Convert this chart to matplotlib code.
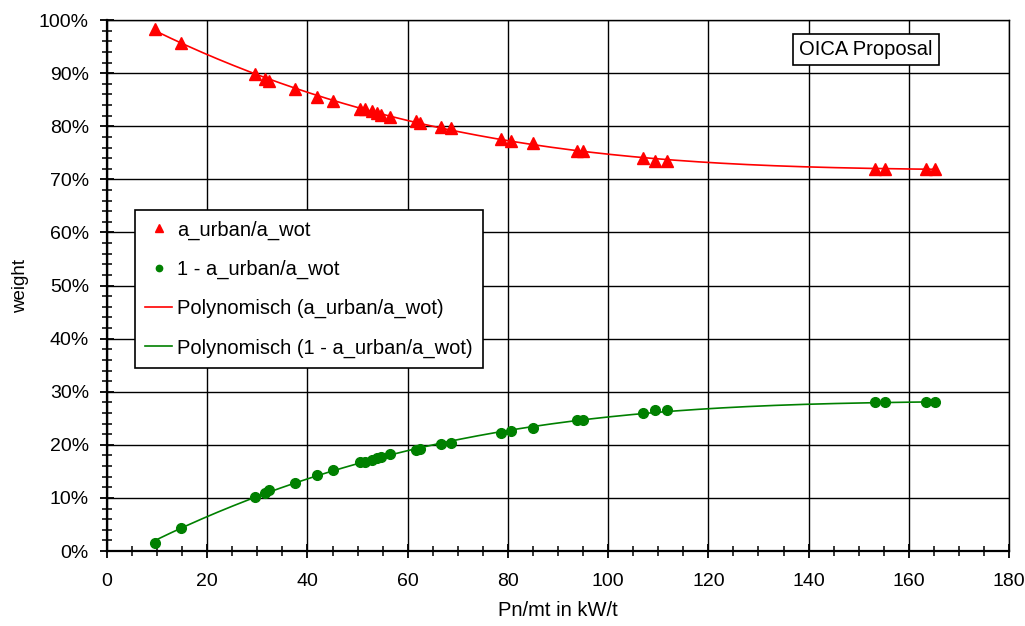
'''
weighting factor a_urban/a_wot over power-to-mass ratio
'''
import numpy as np
import matplotlib.pyplot as plt
from matplotlib.ticker import MultipleLocator, FuncFormatter

plt.rcParams['font.family'] = ['Liberation Sans', 'DejaVu Sans']

# Pn/mt in kW/t
pnmt = [9.6, 14.8, 29.5, 31.5, 32.3, 37.5, 42.0, 45.0, 50.4, 51.5,
        52.8, 53.8, 54.6, 56.5, 61.7, 62.5, 66.7, 68.6, 78.6, 80.6,
        85.0, 93.7, 94.9, 107.0, 109.4, 111.8, 153.3, 155.3, 163.4, 165.2]
# a_urban/a_wot in %
urban_wot = [98.4, 95.7, 89.8, 89.0, 88.6, 87.1, 85.6, 84.8, 83.3, 83.2,
             82.9, 82.5, 82.2, 81.8, 81.0, 80.7, 79.9, 79.6, 77.7, 77.3,
             76.9, 75.4, 75.4, 74.0, 73.5, 73.5, 72.0, 72.0, 72.0, 72.0]

x = np.array(pnmt)
y1 = np.array(urban_wot) / 100
y2 = 1 - y1

# polynomial trendlines over the data range
deg = 3
xf = np.linspace(x.min(), x.max(), 400)
f1 = np.polyval(np.polyfit(x, y1, deg), xf)
f2 = np.polyval(np.polyfit(x, y2, deg), xf)

fig = plt.figure(figsize=(10.25, 6.26), dpi=100)
ax = fig.add_axes([0.1044, 0.1198, 0.88, 0.848])

h1, = ax.plot(x, y1, '^', color='#ff0000', ms=8, mec='#ff0000', ls='none', label='a_urban/a_wot', zorder=4)
h2, = ax.plot(x, y2, 'o', color='#008000', ms=7, ls='none', label='1 - a_urban/a_wot', zorder=4)
h3, = ax.plot(xf, f1, color='#ff0000', lw=1.2, label='Polynomisch (a_urban/a_wot)', zorder=3)
h4, = ax.plot(xf, f2, color='#008000', lw=1.2, label='Polynomisch (1 - a_urban/a_wot)', zorder=3)

ax.set_xlim(0, 180)
ax.set_ylim(0, 1)
ax.xaxis.set_major_locator(MultipleLocator(20))
ax.xaxis.set_minor_locator(MultipleLocator(5))
ax.yaxis.set_major_locator(MultipleLocator(0.1))
ax.yaxis.set_minor_locator(MultipleLocator(0.02))
ax.yaxis.set_major_formatter(FuncFormatter(lambda v, p: '{:.0f}%'.format(v * 100)))
ax.tick_params(which='major', direction='inout', length=10, width=1.3, labelsize=14, color='black')
ax.tick_params(axis='x', which='major', pad=11)
ax.tick_params(axis='y', which='major', pad=8)
ax.tick_params(which='minor', direction='inout', length=7, width=1.1, color='black')
ax.grid(which='major', color='black', lw=1.0)
ax.set_axisbelow(True)
for s in ax.spines.values():
    s.set_color('black')
    s.set_linewidth(1.0)
ax.spines['left'].set_linewidth(1.6)
ax.spines['bottom'].set_linewidth(1.6)

ax.set_xlabel('Pn/mt in kW/t', fontsize=14.5, labelpad=8)
ax.set_ylabel('weight', fontsize=13.5, labelpad=7)

ax.text(151.5, 0.945, 'OICA Proposal', fontsize=14.5, ha='center', va='center',
        bbox=dict(boxstyle='square,pad=0.3', fc='white', ec='black', lw=1.2))

leg = ax.legend(handles=[h1, h2, h3, h4], loc='upper left', bbox_to_anchor=(0.031, 0.642),
                fontsize=14.5, frameon=True, fancybox=False, framealpha=1, edgecolor='black',
                borderpad=0.5, labelspacing=1.0, handlelength=1.35, handletextpad=0.25,
                markerscale=0.65, borderaxespad=0)
leg.get_frame().set_linewidth(1.2)

fig.savefig('out.png', dpi=100)
plt.close()
